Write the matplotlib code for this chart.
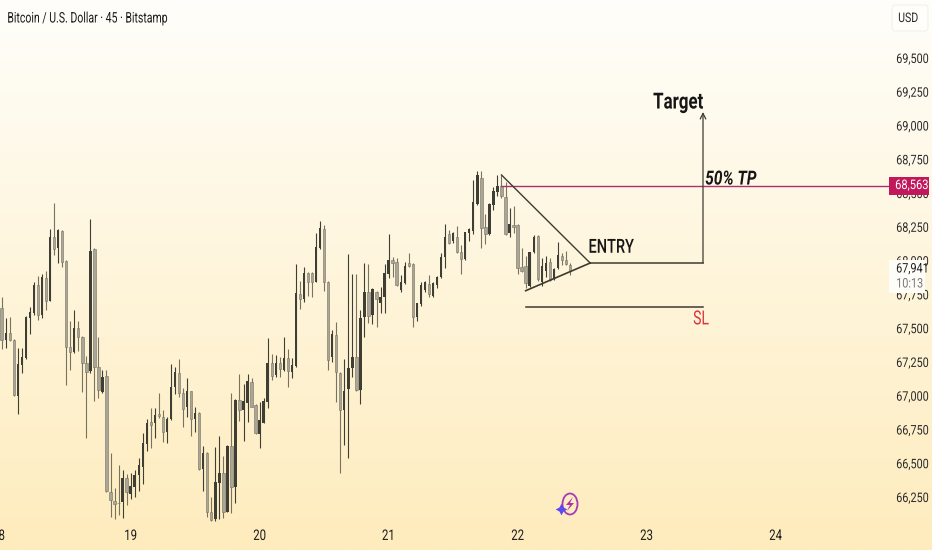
"""BTC/USD 45 minute candles with hand drawn trade levels."""

import matplotlib

matplotlib.use("Agg")
import matplotlib.pyplot as plt
import numpy as np
from matplotlib.patches import Ellipse, FancyBboxPatch, Polygon, Rectangle
from matplotlib.patheffects import AbstractPathEffect
from matplotlib.transforms import Affine2D

plt.rcParams["font.family"] = ["Roboto", "DejaVu Sans"]

W, H = 932, 550

opens = [
    67647, 67412, 67462, 67412, 66998, 67225, 67277, 67573, 67610, 67820,
    67598, 67869, 67704, 68177, 68091, 68222, 68000, 67363, 67326, 67499,
    67437, 67240, 67185, 68084, 67210, 67030, 67146, 66289, 66223, 66208,
    66215, 66388, 66272, 66321, 66413, 66475, 66642, 66808, 66795, 66864,
    66840, 66729, 66825, 67062, 67166, 67017, 66919, 67035, 66825, 66874,
    66455, 66573, 66136, 66085, 66356, 66430, 66141, 66628, 66321, 66968,
    66894, 66943, 67099, 66931, 66716, 66800, 66956, 67245, 67153, 67240,
    67190, 67282, 67178, 67220, 67753, 67713, 67911, 67911, 67844, 68091,
    68232, 67839, 67289, 67449, 67170, 66894, 67047, 67203, 67289, 67042,
    67580, 67770, 67598, 67765, 67684, 67733, 67901, 68004, 67992, 67782,
    67832, 67985, 67975, 67580, 67678, 67782, 67827, 67738, 67819, 67876,
    68024, 68197, 68145, 68177, 68066, 68012, 68202, 68221, 68416, 68614,
    68251, 68197, 68412, 68510, 68552, 68473, 68202, 68263, 68263, 67955,
    67960, 67812, 68066, 68182, 67844, 67925, 67992, 67864, 67943, 68034,
    68004, 67965,
]
highs = [
    67733, 67573, 67585, 67417, 67356, 67356, 67590, 67659, 67844, 67889,
    67899, 67926, 68232, 68424, 68232, 68227, 68005, 67556, 67635, 67556,
    67442, 67296, 68306, 68091, 67437, 67190, 67190, 66573, 66314, 66487,
    66450, 66420, 66425, 66450, 66536, 66721, 66825, 66906, 66906, 67017,
    66894, 66840, 67235, 67210, 67272, 67054, 67129, 67037, 66914, 66882,
    66628, 66586, 66252, 66623, 66702, 66554, 66635, 67017, 66973, 67161,
    67087, 67161, 67129, 66939, 66956, 66980, 67430, 67309, 67301, 67289,
    67437, 67346, 67282, 67973, 67852, 67950, 67918, 67916, 68202, 68291,
    68264, 67849, 67486, 67548, 67178, 67272, 68047, 67899, 67899, 67635,
    67980, 67973, 67800, 67775, 67802, 67973, 68195, 68029, 68017, 67893,
    67992, 68059, 67980, 67688, 67844, 67849, 67893, 67844, 67886, 68054,
    68268, 68226, 68214, 68258, 68115, 68214, 68239, 68597, 68663, 68663,
    68342, 68429, 68547, 68634, 68634, 68584, 68387, 68407, 68268, 68096,
    68036, 68066, 68189, 68189, 68017, 68036, 68017, 67943, 68140, 68059,
    68073, 67985,
]
lows = [
    67343, 67351, 67407, 66998, 66862, 67170, 67272, 67454, 67598, 67560,
    67578, 67635, 67699, 68042, 67980, 67950, 67077, 67190, 67314, 67333,
    67030, 66684, 67170, 66963, 66980, 67022, 66289, 66099, 66085, 66117,
    66092, 66191, 66233, 66247, 66297, 66346, 66593, 66615, 66684, 66832,
    66660, 66652, 66820, 67010, 66988, 66766, 66840, 66702, 66734, 66450,
    66297, 66104, 66075, 66075, 66085, 66092, 66136, 66134, 66208, 66815,
    66667, 66803, 66914, 66716, 66615, 66795, 66911, 67116, 67141, 67141,
    67185, 67067, 67133, 67215, 67642, 67696, 67741, 67728, 67839, 68084,
    67775, 67190, 67247, 66956, 66425, 66635, 66536, 67136, 67037, 66936,
    67437, 67536, 67528, 67506, 67610, 67615, 67869, 67881, 67814, 67770,
    67827, 67955, 67511, 67555, 67666, 67770, 67733, 67733, 67795, 67871,
    67948, 68123, 68128, 68059, 67898, 68004, 68145, 68197, 68412, 68091,
    68120, 68192, 68375, 68478, 68461, 68189, 68172, 68202, 67898, 67918,
    67795, 67807, 68059, 67851, 67812, 67881, 67849, 67856, 67938, 67967,
    67967, 67893,
]
closes = [
    67412, 67462, 67412, 67005, 67235, 67284, 67585, 67622, 67820, 67598,
    67876, 67704, 68177, 68086, 68227, 67992, 67363, 67326, 67499, 67432,
    67240, 67178, 68071, 67215, 67042, 67141, 66297, 66228, 66198, 66203,
    66388, 66289, 66331, 66413, 66487, 66647, 66795, 66783, 66857, 66850,
    66734, 66830, 67067, 67178, 67017, 66899, 67037, 66825, 66869, 66455,
    66573, 66141, 66080, 66364, 66430, 66141, 66630, 66326, 66968, 66894,
    66963, 67109, 66919, 66721, 66820, 66961, 67245, 67146, 67245, 67195,
    67277, 67185, 67227, 67758, 67713, 67911, 67844, 67844, 68103, 68239,
    67844, 67264, 67457, 67178, 66894, 67037, 67203, 67289, 67042, 67573,
    67770, 67593, 67788, 67713, 67733, 67906, 68005, 67980, 67819, 67844,
    67960, 67960, 67580, 67683, 67819, 67839, 67753, 67832, 67881, 68029,
    68172, 68128, 68202, 68061, 68009, 68209, 68234, 68431, 68634, 68239,
    68194, 68419, 68518, 68552, 68478, 68197, 68268, 68246, 67943, 67925,
    67832, 68061, 68177, 67861, 67960, 67985, 67856, 67938, 68041, 68004,
    67972, 67925,
]

price_ticks = [69500, 69250, 69000, 68750, 68500, 68250, 68000, 67750, 67500,
               67250, 67000, 66750, 66500, 66250]
day_bars = [0, 32, 64, 96, 128, 160, 192]
day_labels = ["8", "19", "20", "21", "22", "23", "24"]

tp_price = 68552
triangle_top = (124, 68634)
triangle_low = (130, 67777)
triangle_apex = (146, 67982)
target_bar = 174
target_price = 69100
sl_price = 67657

UP_COLOR = "#3f3e34"
DOWN_COLOR = "#a9a598"
DOWN_EDGE = "#77735f"
LINE_COLOR = "#3d3b30"


class Condensed(AbstractPathEffect):
    """Squeeze text sideways, the reference uses a narrow face we don't have."""

    def __init__(self, factor=0.78, anchor="left"):
        super().__init__()
        self.factor = factor
        self.anchor = anchor

    def draw_path(self, renderer, gc, tpath, affine, rgbFace=None):
        box = tpath.get_extents(affine)
        x0 = box.x0 if self.anchor == "left" else (box.x0 + box.x1) / 2
        squeeze = Affine2D().translate(-x0, 0).scale(self.factor, 1).translate(x0, 0)
        renderer.draw_path(gc, tpath, affine + squeeze, rgbFace)


fig = plt.figure(figsize=(W / 100, H / 100), dpi=100)

# gradient backdrop runs under the whole figure, price scale included
bg = fig.add_axes([0, 0, 1, 1], zorder=0)
gradient = np.linspace(0, 1, 256)[:, None, None]
top_rgb = np.array([255, 254, 250]) / 255
bottom_rgb = np.array([254, 236, 189]) / 255
bg.imshow(top_rgb + gradient * (bottom_rgb - top_rgb), aspect="auto")
bg.axis("off")

ax = fig.add_axes([0, (H - 522) / H, 888 / W, 522 / H], zorder=1)
ax.patch.set_alpha(0)
ax.set_xlim(-0.42, 219.9)
ax.set_ylim(66065, 69929)
for spine in ax.spines.values():
    spine.set_visible(False)

bars = np.arange(len(opens))
o, h, l, c = map(np.array, (opens, highs, lows, closes))
up = c >= o
ax.vlines(bars[up], l[up], h[up], color=UP_COLOR, lw=0.8, zorder=2)
ax.vlines(bars[~up], l[~up], h[~up], color=DOWN_EDGE, lw=0.8, zorder=2)
ax.bar(bars[up], (c - o)[up], bottom=o[up], width=0.6, color=UP_COLOR, lw=0, zorder=3)
ax.bar(bars[~up], (c - o)[~up], bottom=o[~up], width=0.6, color=DOWN_COLOR,
       edgecolor=DOWN_EDGE, lw=0.4, zorder=3)

# drawings
ax.plot([triangle_top[0], 221], [tp_price, tp_price], color="#a8326f", lw=1.0,
        zorder=4, clip_on=False)
ax.plot([triangle_top[0], triangle_apex[0]], [triangle_top[1], triangle_apex[1]],
        color=LINE_COLOR, lw=1.0, zorder=5)
ax.plot([triangle_low[0], triangle_apex[0]], [triangle_low[1], triangle_apex[1]],
        color=LINE_COLOR, lw=1.2, zorder=5)
ax.plot([triangle_apex[0], target_bar], [triangle_apex[1], triangle_apex[1]],
        color=LINE_COLOR, lw=1.1, zorder=5)
ax.plot([triangle_low[0], target_bar], [sl_price, sl_price], color=LINE_COLOR,
        lw=1.1, zorder=5)
ax.annotate("", xy=(target_bar, target_price), xytext=(target_bar, triangle_apex[1]),
            arrowprops=dict(arrowstyle="->", color=LINE_COLOR, lw=0.9,
                            shrinkA=0, shrinkB=0, mutation_scale=10), zorder=5)
ax.text(161.6, 69170, "Target", fontsize=16, fontweight="bold", color="#161616",
        ha="left", va="center", path_effects=[Condensed(0.76)])
ax.text(145.5, 68095, "ENTRY", fontsize=14, fontweight="medium", color="#161616",
        ha="left", va="center", path_effects=[Condensed(0.75)])
ax.text(174.5, 68600, "50% TP", fontsize=14, fontstyle="italic", fontweight="bold",
        color="#161616", ha="left", va="center", path_effects=[Condensed(0.8)])
ax.text(171.5, 67565, "SL", fontsize=14, color="#d8323c", ha="left", va="center",
        path_effects=[Condensed(0.72)])

ax.xaxis.tick_bottom()
ax.set_xticks(day_bars, day_labels)
ax.tick_params(axis="x", length=0, pad=5, labelsize=10.5, labelcolor="#1a1a1a")
for label in ax.get_xticklabels():
    label.set_path_effects([Condensed(0.78, "center")])
ax.yaxis.tick_right()
ax.set_yticks(price_ticks, [f"{p:,}" for p in price_ticks])
ax.tick_params(axis="y", length=0, pad=5.8, labelsize=9.5, labelcolor="#2a2a2a")
for label in ax.get_yticklabels():
    label.set_path_effects([Condensed(0.82)])

# overlay in pixels for the scale badges and the logo
top = fig.add_axes([0, 0, 1, 1], zorder=2)
top.set_xlim(0, W)
top.set_ylim(H, 0)
top.axis("off")

top.add_patch(FancyBboxPatch((892, 5), 36, 26, boxstyle="round,pad=0,rounding_size=3",
                             fc="#fffefb", ec="#f4f1ea", lw=0.8))
top.text(898, 18.5, "USD", fontsize=9.5, color="#2a2a2a", ha="left", va="center",
         path_effects=[Condensed(0.8)])

top.add_patch(Rectangle((888.5, 177), 40.5, 18, fc="#c2185b", ec="none"))
top.text(895, 185.5, "68,563", fontsize=9.5, color="white", ha="left", va="center",
         path_effects=[Condensed(0.84)])

top.add_patch(Rectangle((889, 260), 36, 33, fc="#fffdf8", ec="none"))
top.text(896, 269, "67,941", fontsize=9.5, color="#1f1f1f", ha="left", va="center",
         path_effects=[Condensed(0.82)])
top.text(896, 284, "10:13", fontsize=9.5, color="#777777", ha="left", va="center",
         path_effects=[Condensed(0.82)])

top.text(7, 18.5, "Bitcoin / U.S. Dollar · 45 · Bitstamp", fontsize=10.5,
         color="#1a1a1a", ha="left", va="center", path_effects=[Condensed(0.72)])

top.add_patch(Ellipse((570, 504), 15, 21, fc="none", ec="#a43bb5", lw=1.3))
top.add_patch(Polygon([(573, 497), (566, 505), (570, 505), (567, 511),
                       (574, 503), (570, 503)], fc="#b0309f", ec="none"))
top.scatter([561], [508.5], marker=(4, 1, 0), s=70, color="#5b4bf0", lw=0)

fig.savefig("out.png", dpi=100)
